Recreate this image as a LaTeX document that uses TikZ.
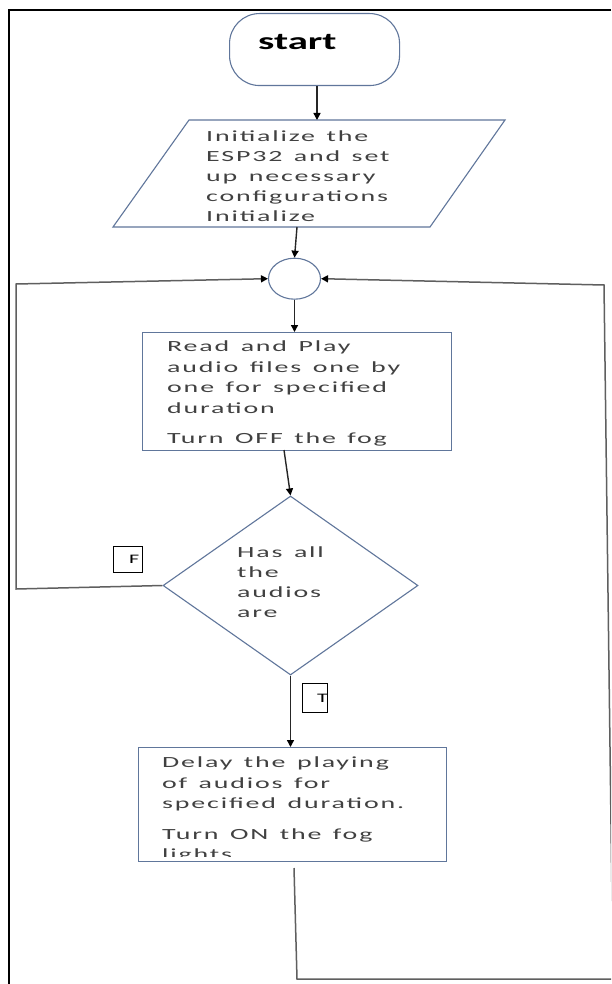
\documentclass[tikz,border=0pt]{standalone}
\usepackage{fontspec}
\setmainfont{Carlito}
\newfontfamily\bodyf[FakeStretch=1.8,LetterSpace=12,WordSpace=1.4]{Carlito}
\newfontfamily\startf[FakeStretch=1.7]{Carlito}
\usetikzlibrary{arrows.meta,shapes.geometric}
\definecolor{shapeblue}{RGB}{96,118,155}
\definecolor{txtgray}{RGB}{65,65,65}
\definecolor{loopgray}{RGB}{95,95,95}
\begin{document}
\begin{tikzpicture}[x=1pt,y=-1pt,
  shp/.style={draw=shapeblue,line width=1.1pt,fill=white,inner sep=0pt},
  body/.style={anchor=north west,inner sep=0pt,align=left,text=txtgray,font=\bodyf\fontsize{15.5}{20.5}\selectfont},
  conn/.style={line width=1.4pt,draw=black!85,-{Triangle[length=7pt,width=7pt,color=black]}},
  loopline/.style={line width=1.5pt,draw=loopgray},
  tagbox/.style={draw=black,line width=0.8pt,inner sep=0pt,anchor=north west},
  tagtext/.style={anchor=base west,inner sep=0pt,text=black,font=\startf\fontsize{13}{13}\selectfont},
]
\clip (0,0) rectangle (611,984);
\fill[white] (0,0) rectangle (611,984);
% outer frame
\draw[line width=1.6pt,black] (611,10) -- (9,10) -- (9,984);

% start
\node[shp,rounded corners=30pt,minimum width=170pt,minimum height=72pt,anchor=north west] (start) at (229,13) {};
\node[anchor=base west,inner sep=0pt,font=\startf\bfseries\fontsize{24}{28}\selectfont] (starttext) at (258,50) {start};

% initialize parallelogram
\coordinate (initTop) at (317,120);
\coordinate (initBot) at (297,227);
\draw[shp] (189,120) -- (505,120) -- (430,227) -- (113,227) -- cycle;
\node[body,font=\bodyf\fontsize{15.5}{20}\selectfont] (inittext) at (206,131) {Initialize the\\ESP32 and set\\up necessary\\configurations\\Initialize};
\draw[conn] (start.south -| initTop) -- (initTop);

% connector circle
\node[shp,ellipse,minimum width=52pt,minimum height=41pt] (circ) at (294.5,278.7) {};
\draw[conn] (initBot) -- (circ.north);

% read and play box
\node[shp,rectangle,minimum width=309pt,minimum height=118pt,anchor=north west] (read) at (142,332) {};
\draw[conn] (circ.south) -- (circ.south |- read.north);
\begin{scope}
\clip (142,332) rectangle (451,447);
\node[body] (readtext) at (167,341) {Read and Play\\audio files one by\\one for specified\\duration\\[10pt]Turn OFF the fog};
\end{scope}

% decision diamond
\node[shp,diamond,minimum width=255pt,minimum height=179pt] (dia) at (290.5,585.5) {};
\node[body,font=\bodyf\fontsize{15.5}{20}\selectfont] (diatext) at (237,547) {Has all\\the\\audios\\are};
\coordinate (readOut) at (284,450);
\draw[conn] (readOut) -- (dia.north);

% F tag
\node[tagbox,minimum width=29pt,minimum height=26pt] (ftag) at (113,546) {};
\begin{scope}
\clip (ftag.south west) rectangle (ftag.north east);
\node[tagtext] (ftext) at (129,563) {F};
\end{scope}

% T tag
\node[tagbox,minimum width=25pt,minimum height=29pt] (ttag) at (302,683) {};
\begin{scope}
\clip (ttag.south west) rectangle (ttag.north east);
\node[tagtext] (ttext) at (317,702) {T};
\end{scope}

% delay box
\node[shp,rectangle,minimum width=308pt,minimum height=114pt,anchor=north west] (delay) at (138,747) {};
\draw[conn] (dia.south) -- (dia.south |- delay.north);
\begin{scope}
\clip (138,747) rectangle (446,856);
\node[body] (delaytext) at (162,757) {Delay the playing\\of audios for\\specified duration.\\[10pt]Turn ON the fog\\lights};
\end{scope}

% left loop (F)
\coordinate (lb) at (16,589);
\coordinate (lt) at (16,284);
\draw[loopline,-{Triangle[length=7pt,width=7pt,color=black]}] (dia.west) -- (lb) -- (lt) -- (circ.west);

% right loop (from delay)
\coordinate (delayOut) at (294,868);
\coordinate (rb0) at (297,979);
\coordinate (rb1) at (613,979);
\coordinate (rt) at (604,285);
\draw[loopline,-{Triangle[length=7pt,width=7pt,color=black]}] (delayOut) -- (rb0) -- (rb1) -- (rt) -- (circ.east);
\end{tikzpicture}
\end{document}
